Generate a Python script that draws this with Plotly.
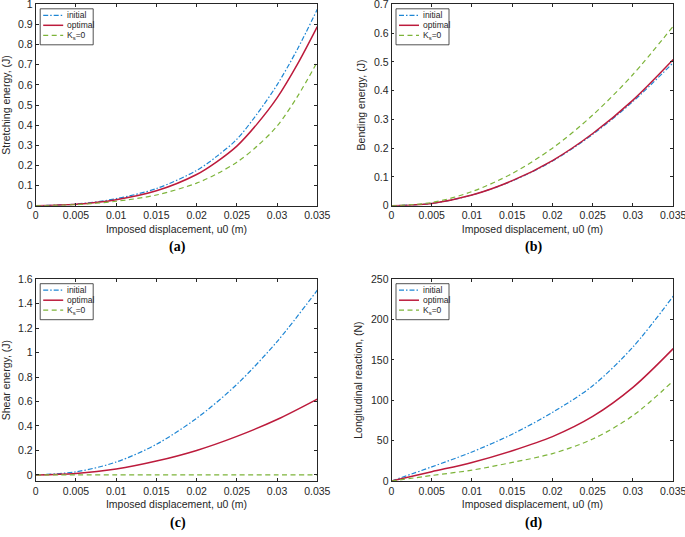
import plotly.graph_objects as go

# ---------------- data ----------------
u0 = [0, 0.005, 0.01, 0.015, 0.02, 0.0225, 0.025, 0.0275, 0.03, 0.0325, 0.035]
stretch_initial = [0, 0.008, 0.035, 0.085, 0.175, 0.245, 0.330, 0.455, 0.600, 0.775, 0.975]
stretch_optimal = [0, 0.007, 0.030, 0.074, 0.155, 0.218, 0.296, 0.405, 0.535, 0.700, 0.889]
stretch_ks0 = [0, 0.005, 0.022, 0.053, 0.112, 0.158, 0.216, 0.295, 0.395, 0.540, 0.714]

u0b = [0, 0.005, 0.01, 0.015, 0.02, 0.025, 0.03, 0.035]
bend_initial = [0, 0.008, 0.037, 0.086, 0.155, 0.248, 0.362, 0.497]
bend_optimal = [0, 0.008, 0.037, 0.087, 0.157, 0.251, 0.367, 0.508]
bend_ks0 = [0, 0.011, 0.049, 0.112, 0.200, 0.315, 0.456, 0.624]

shear_initial = [0, 0.025, 0.105, 0.250, 0.463, 0.740, 1.090, 1.510]
shear_optimal = [0, 0.012, 0.048, 0.113, 0.200, 0.315, 0.453, 0.620]
shear_ks0 = [0, 0, 0, 0, 0, 0, 0, 0]

react_initial = [0, 17.5, 36, 58, 85, 118, 166, 229]
react_optimal = [0, 11.5, 23, 37.5, 55, 80, 116, 164]
react_ks0 = [0, 6.8, 13.5, 23, 34, 52, 81, 124]

series_names = ["initial", "optimal", "K<sub>s</sub>=0"]
y_titles = ["Stretching energy, (J)", "Bending energy, (J)",
            "Shear energy, (J)", "Longitudinal reaction, (N)"]
x_title = "Imposed displacement, u0 (m)"
captions = ["(a)", "(b)", "(c)", "(d)"]

# ---------------- style ----------------
W, H = 685, 537
COLORS = ["#1E86D4", "#BC1B3C", "#7DB43A"]
DASHES = ["5px,2px,1.5px,2px", "solid", "5px,3.5px"]
WIDTHS = [1.2, 1.5, 1.2]
AX = "#262626"

# plot areas in pixels: (left, right, top, bottom)
areas = [(35.7, 317.3, 4.3, 205.7), (391.5, 673.2, 4.3, 205.7),
         (35.7, 317.3, 279.2, 481.0), (391.5, 673.2, 279.2, 481.0)]
yranges = [[0, 1], [0, 0.7], [-0.05, 1.6], [0, 250]]
ydticks = [0.1, 0.1, 0.2, 50]

panels = [
    (u0, [stretch_initial, stretch_optimal, stretch_ks0]),
    (u0b, [bend_initial, bend_optimal, bend_ks0]),
    (u0b, [shear_initial, shear_optimal, shear_ks0]),
    (u0b, [react_initial, react_optimal, react_ks0]),
]

fig = go.Figure()
layout = dict(width=W, height=H, margin=dict(l=0, r=0, t=0, b=0, autoexpand=False),
              paper_bgcolor="white", plot_bgcolor="white",
              font=dict(family="Liberation Sans, Arial", size=10, color=AX),
              showlegend=False)
shapes, annotations = [], []

for i, ((xs, ys_list), area) in enumerate(zip(panels, areas)):
    L, R, T, B = area
    n = "" if i == 0 else str(i + 1)
    xa, ya = "x" + n, "y" + n
    for j, ys in enumerate(ys_list):
        fig.add_trace(go.Scatter(
            x=xs, y=ys, mode="lines", xaxis=xa, yaxis=ya,
            name=series_names[j],
            line=dict(color=COLORS[j], dash=DASHES[j], width=WIDTHS[j],
                      shape="spline", smoothing=0.9),
            hoverinfo="x+y"))
    common = dict(showline=True, linecolor=AX, linewidth=0.8, mirror="ticks",
                  ticks="inside", ticklen=3, tickwidth=0.8, tickcolor=AX,
                  showgrid=False, zeroline=False, automargin=False,
                  ticklabeloverflow="allow",
                  tickfont=dict(size=10.5, color=AX))
    layout["xaxis" + n] = dict(
        common, domain=[L / W, R / W], anchor=ya, range=[0, 0.035],
        tick0=0, dtick=0.005,
        title=dict(text=x_title, font=dict(size=10.5, color=AX), standoff=5))
    layout["yaxis" + n] = dict(
        common, domain=[1 - B / H, 1 - T / H], anchor=xa, range=yranges[i],
        tick0=0, dtick=ydticks[i],
        title=dict(text=y_titles[i], font=dict(size=10.5, color=AX), standoff=6))

    # legend box (drawn in axis-domain coordinates)
    pw, ph = R - L, B - T
    dx = lambda px: px / pw
    dy = lambda px: 1 - px / ph
    xr, yr = xa + " domain", ya + " domain"
    shapes.append(dict(type="rect", xref=xr, yref=yr,
                       x0=dx(4.5), x1=dx(57.5), y0=dy(40.5), y1=dy(4.5),
                       line=dict(color=AX, width=0.8), fillcolor="white",
                       layer="above"))
    for j in range(3):
        yy = dy(11.0 + 10.0 * j)
        shapes.append(dict(type="line", xref=xr, yref=yr,
                           x0=dx(7.5), x1=dx(27.5), y0=yy, y1=yy,
                           line=dict(color=COLORS[j], dash=DASHES[j],
                                     width=WIDTHS[j]), layer="above"))
        annotations.append(dict(xref=xr, yref=yr, x=dx(29.5), y=yy,
                                text=series_names[j], showarrow=False,
                                xanchor="left", yanchor="middle",
                                font=dict(size=8.5, color=AX)))
    # caption
    annotations.append(dict(xref="paper", yref="paper",
                            x=((L + R) / 2 + 1) / W,
                            y=1 - (B + 41.5) / H,
                            text="<b>" + captions[i] + "</b>", showarrow=False,
                            xanchor="center", yanchor="middle",
                            font=dict(family="Liberation Serif, Times New Roman",
                                      size=14, color="black")))

layout["shapes"] = shapes
layout["annotations"] = annotations
fig.update_layout(**layout)
fig.write_html("out.html",
               config={"displayModeBar": False},
               post_script="document.body.style.margin='0px';"
                           "document.body.style.overflow='hidden';")
